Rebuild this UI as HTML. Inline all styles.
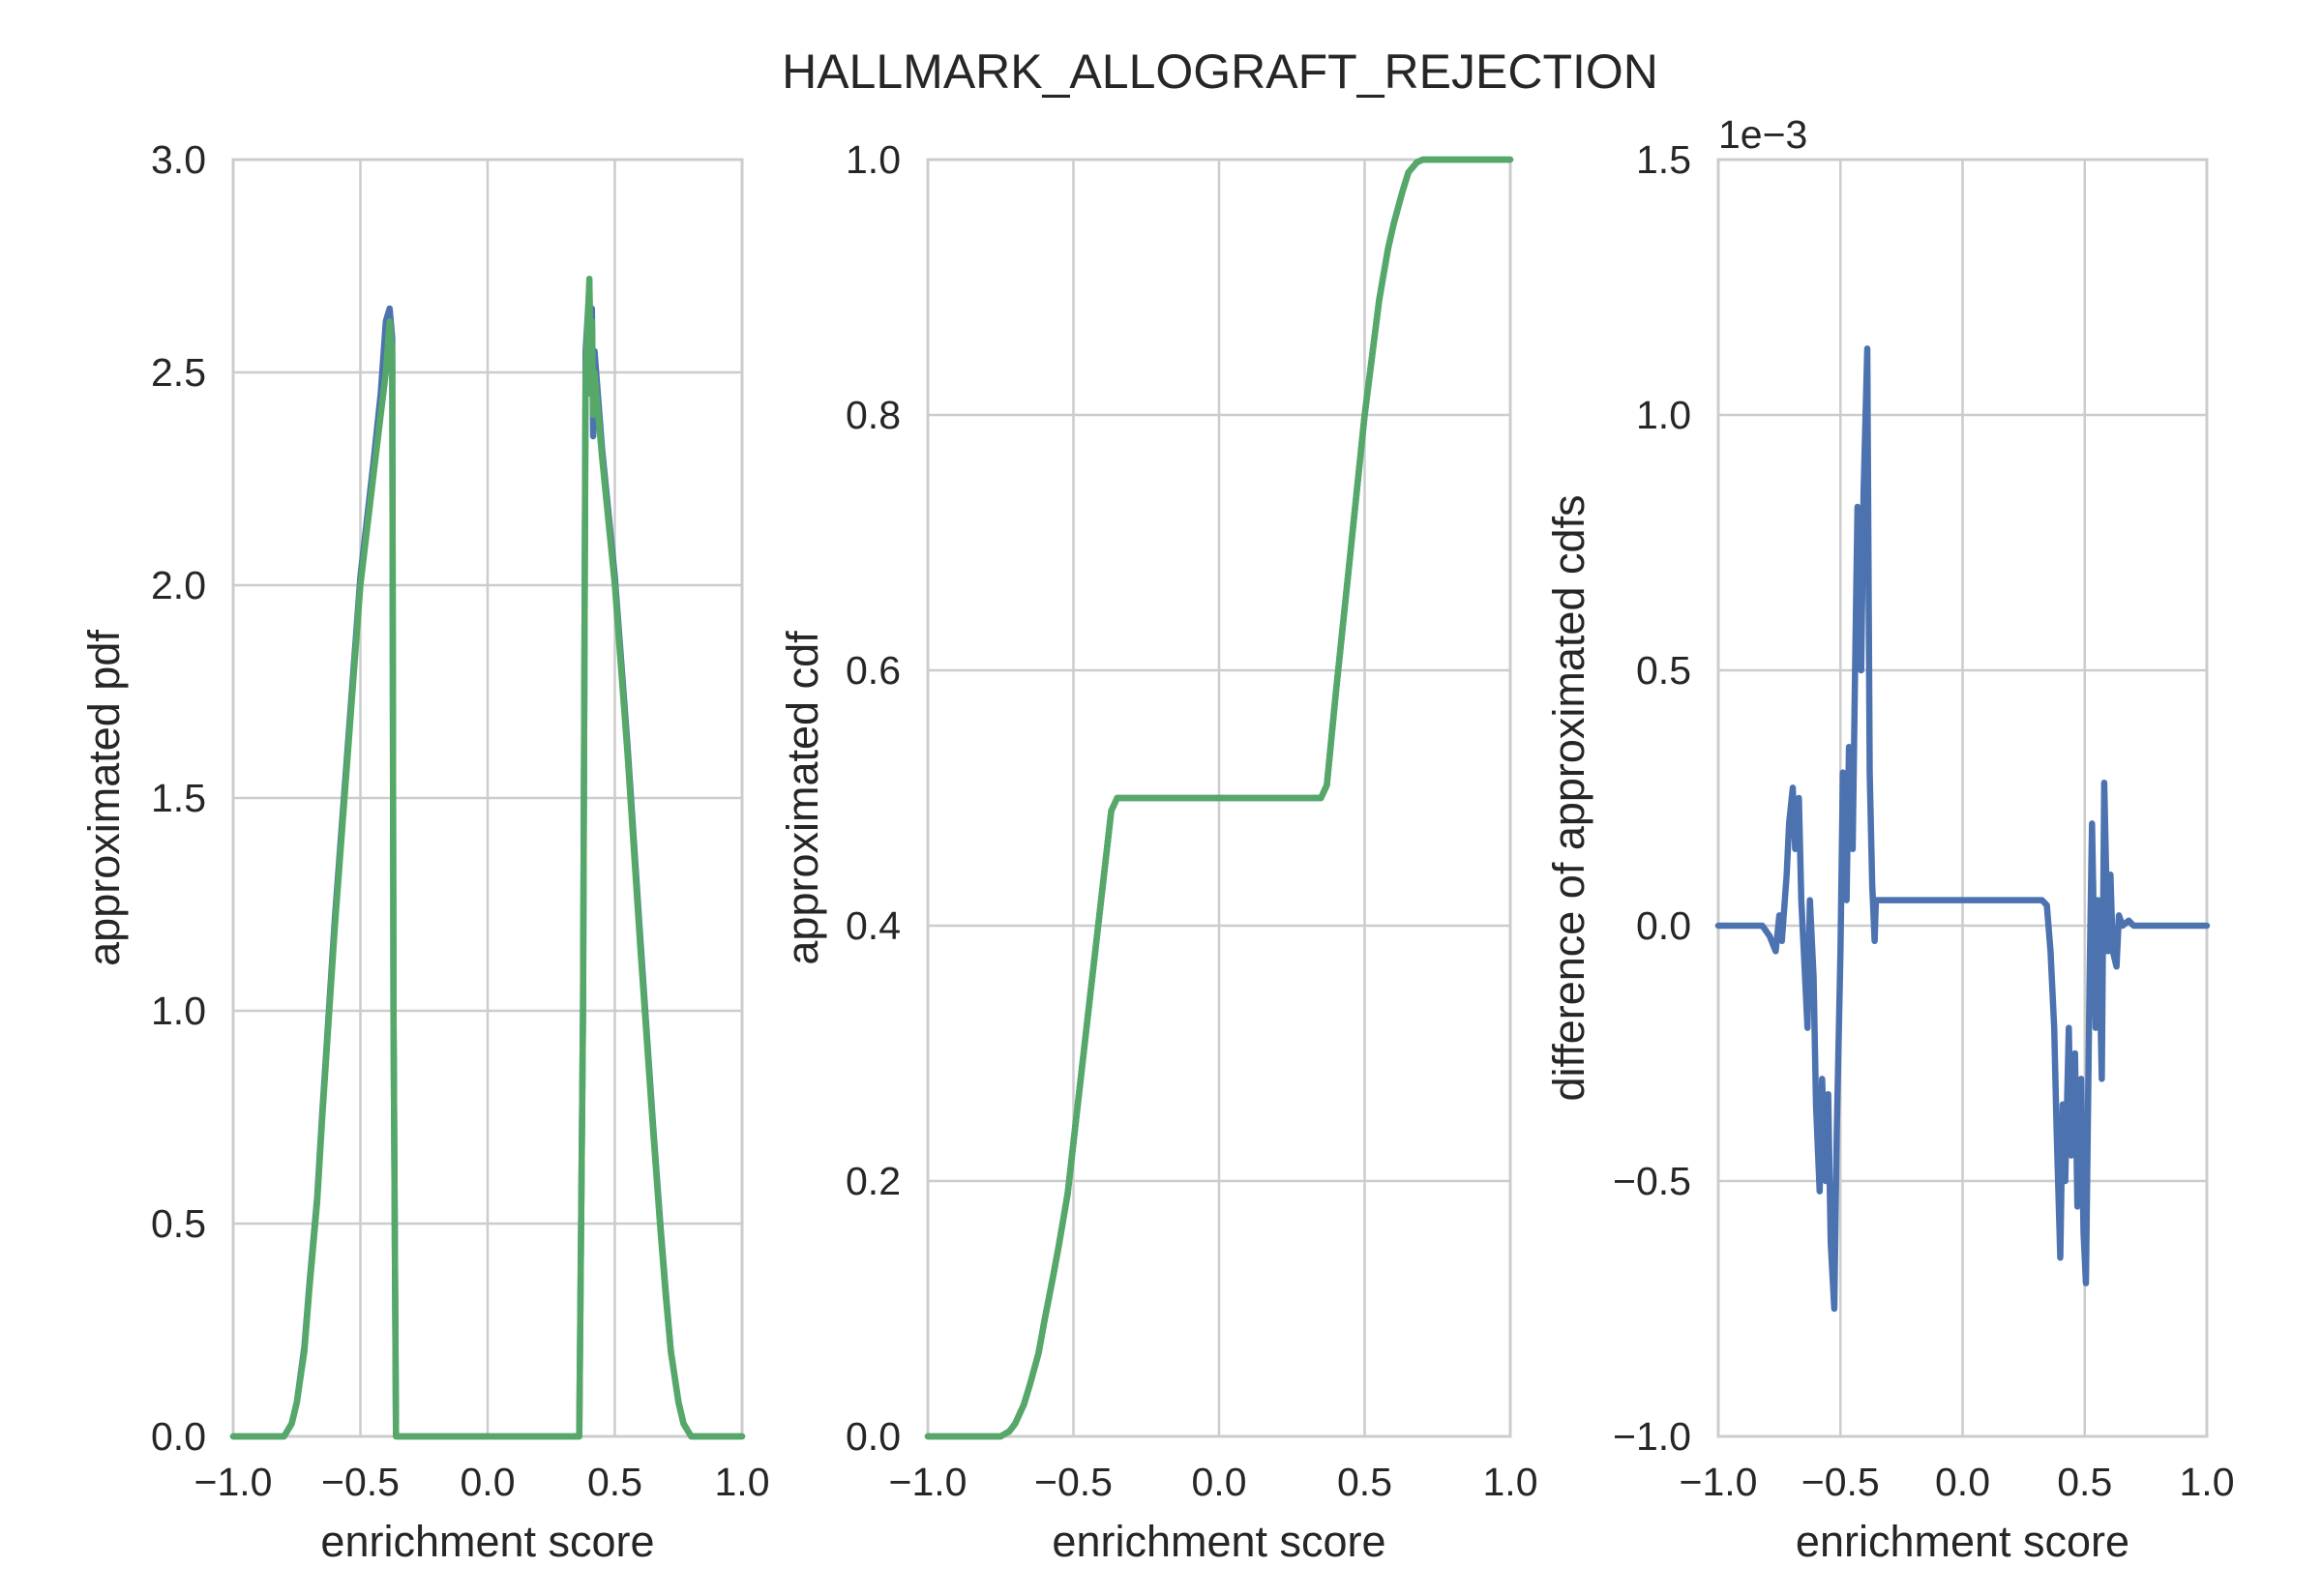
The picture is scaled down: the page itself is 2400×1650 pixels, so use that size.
<!DOCTYPE html>
<html><head><meta charset="utf-8"><style>
html,body{margin:0;padding:0;background:#fff;}
svg{display:block;font-family:"Liberation Sans",sans-serif;fill:#262626;}
</style></head><body>
<svg id="fig" width="2400" height="1650" viewBox="0 0 2400 1650" xmlns="http://www.w3.org/2000/svg">
<text x="1261" y="91" font-size="50" text-anchor="middle">HALLMARK_ALLOGRAFT_REJECTION</text>
</svg>
<script>
// ---- data ----
const pdfX = [-1,-0.8,-0.77,-0.75,-0.72,-0.7,-0.67,-0.65,-0.6,-0.55,-0.5,-0.45,-0.42,-0.40,-0.385,-0.375,-0.37,-0.36,0.36,0.375,0.385,0.40,0.405,0.41,0.415,0.42,0.45,0.5,0.55,0.6,0.65,0.68,0.7,0.72,0.75,0.77,0.8,1];
const pdfGreen = [0,0,0.03,0.08,0.2,0.35,0.55,0.75,1.2,1.6,2.0,2.25,2.4,2.5,2.62,2.55,1.0,0,0,1.0,2.5,2.72,2.45,2.62,2.4,2.5,2.3,2.0,1.6,1.15,0.72,0.48,0.33,0.2,0.08,0.03,0,0];
const pdfBlue = [0,0,0.03,0.08,0.21,0.36,0.56,0.76,1.22,1.62,2.02,2.28,2.45,2.62,2.65,2.58,1.0,0,0,1.0,2.55,2.7,2.5,2.65,2.35,2.55,2.32,2.02,1.62,1.17,0.73,0.49,0.34,0.2,0.08,0.03,0,0];
const cdfX = [-1,-0.75,-0.72,-0.7,-0.67,-0.65,-0.62,-0.6,-0.57,-0.55,-0.52,-0.5,-0.45,-0.4,-0.37,-0.35,0.35,0.37,0.4,0.45,0.5,0.55,0.58,0.6,0.63,0.65,0.68,0.7,1];
const cdfY = [0,0,0.004,0.01,0.025,0.04,0.065,0.09,0.125,0.15,0.19,0.23,0.33,0.43,0.49,0.5,0.5,0.51,0.58,0.69,0.8,0.89,0.93,0.95,0.975,0.99,0.998,1.0,1.0];
const diffX = [-1,-0.82,-0.79,-0.765,-0.75,-0.74,-0.72,-0.71,-0.695,-0.685,-0.67,-0.66,-0.65,-0.635,-0.625,-0.61,-0.6,-0.585,-0.575,-0.56,-0.55,-0.54,-0.525,-0.515,-0.5,-0.49,-0.475,-0.465,-0.45,-0.44,-0.43,-0.415,-0.405,-0.39,-0.38,-0.37,-0.36,-0.355,-0.33,0.325,0.345,0.36,0.375,0.385,0.4,0.41,0.42,0.435,0.445,0.46,0.47,0.485,0.495,0.505,0.52,0.53,0.545,0.555,0.57,0.58,0.595,0.605,0.615,0.63,0.64,0.655,0.68,0.7,1];
const diffY = [0,0,-0.02,-0.05,0.02,-0.03,0.1,0.2,0.27,0.15,0.25,0.05,-0.05,-0.2,0.05,-0.1,-0.35,-0.52,-0.3,-0.5,-0.33,-0.62,-0.75,-0.4,-0.05,0.3,0.05,0.35,0.15,0.5,0.82,0.5,0.85,1.13,0.3,0.08,-0.03,0.05,0.05,0.05,0.04,-0.05,-0.2,-0.4,-0.65,-0.35,-0.5,-0.2,-0.45,-0.25,-0.55,-0.3,-0.6,-0.7,-0.1,0.2,-0.2,0.05,-0.3,0.28,-0.05,0.1,-0.05,-0.08,0.02,0,0.01,0,0];
const xTicks = [-1,-0.5,0,0.5,1];
const xTickLabels = ["\u22121.0","\u22120.5","0.0","0.5","1.0"];
const pdfTicks = [0,0.5,1,1.5,2,2.5,3];
const pdfTickLabels = ["0.0","0.5","1.0","1.5","2.0","2.5","3.0"];
const cdfTicks = [0,0.2,0.4,0.6,0.8,1];
const cdfTickLabels = ["0.0","0.2","0.4","0.6","0.8","1.0"];
const diffTicks = [-1,-0.5,0,0.5,1,1.5];
const diffTickLabels = ["\u22121.0","\u22120.5","0.0","0.5","1.0","1.5"];

const NS = "http://www.w3.org/2000/svg";
const svg = document.getElementById('fig');
const TOP = 165, BOT = 1485;
function mk(tag, attrs, parent){const e=document.createElementNS(NS,tag);for(const k in attrs)e.setAttribute(k,attrs[k]);(parent||svg).appendChild(e);return e;}

function panel(id, L, R, ymin, ymax, yTicks, yLabels, ylabel, ylabelX, series){
  const g = mk('g',{});
  
  
  const sx = v => L + (v+1)/2*(R-L);
  const sy = v => BOT - (v-ymin)/(ymax-ymin)*(BOT-TOP);
  xTicks.forEach((t,i)=>{
    const l = mk('line',{x1:sx(t),x2:sx(t),y1:TOP,y2:BOT,stroke:'#cccccc','stroke-width':2.5},g);
    
    
    const tx = mk('text',{x:sx(t),y:1546,'font-size':41,'text-anchor':'middle'},g);
    
    
    tx.textContent = xTickLabels[i];
  });
  yTicks.forEach((t,i)=>{
    const l = mk('line',{x1:L,x2:R,y1:sy(t),y2:sy(t),stroke:'#cccccc','stroke-width':2.5},g);
    
    
    const tx = mk('text',{x:L-28,y:sy(t)+14,'font-size':41,'text-anchor':'end'},g);
    
    
    tx.textContent = yLabels[i];
  });
  const frame = mk('rect',{x:L,y:TOP,width:R-L,height:BOT-TOP,fill:'none',stroke:'#cccccc','stroke-width':3},g);
  
  
  series.forEach(s=>{
    const d = s.x.map((v,i)=>(i?'L':'M')+sx(v).toFixed(1)+','+sy(s.y[i]).toFixed(1)).join(' ');
    const p = mk('path',{d:d,fill:'none',stroke:s.color,'stroke-width':6.5,'stroke-linejoin':'round','stroke-linecap':'round'},g);
    
    
  });
  const xl = mk('text',{x:(L+R)/2,y:1609,'font-size':45,'text-anchor':'middle'},g);
  
  
  xl.textContent = 'enrichment score';
  const yl = mk('text',{x:0,y:0,'font-size':45,'text-anchor':'middle',transform:`translate(${ylabelX},${(TOP+BOT)/2}) rotate(-90)`},g);
  
  
  yl.textContent = ylabel;
}

panel('pdf',241,767,0,3,pdfTicks,pdfTickLabels,'approximated pdf',123,[
  {x:pdfX,y:pdfBlue,color:'#4c72b0',name:'pdf-line-blue'},
  {x:pdfX,y:pdfGreen,color:'#55a868',name:'pdf-line-green'}]);
panel('cdf',959,1561,0,1,cdfTicks,cdfTickLabels,'approximated cdf',845,[
  {x:cdfX,y:cdfY,color:'#4c72b0',name:'cdf-line-blue'},
  {x:cdfX,y:cdfY,color:'#55a868',name:'cdf-line-green'}]);
panel('diff',1776,2281,-1,1.5,diffTicks,diffTickLabels,'difference of approximated cdfs',1637,[
  {x:diffX,y:diffY,color:'#4c72b0',name:'cdf-difference-line'}]);

const off = mk('text',{x:1776,y:153,'font-size':41});


off.textContent = '1e\u22123';
</script>
</body></html>
